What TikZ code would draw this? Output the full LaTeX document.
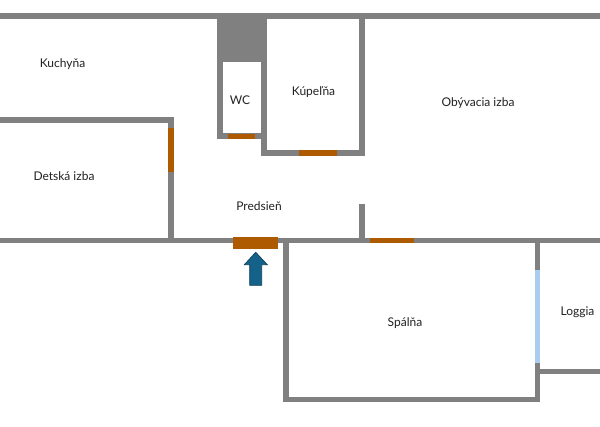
\documentclass[tikz,border=0pt]{standalone}
\usepackage{fontspec}
\setmainfont{Lato}
\definecolor{wallc}{HTML}{808080}
\definecolor{doorc}{HTML}{AD5A00}
\definecolor{winc}{HTML}{A9CDEE}
\definecolor{arrowc}{HTML}{14618A}
\definecolor{arrowe}{HTML}{0F3F5C}
\definecolor{textc}{HTML}{222222}
\tikzset{
  wall/.style={fill=wallc,draw=none},
  door/.style={fill=doorc,draw=none},
  glass/.style={fill=winc,draw=none},
  room/.style={text=textc,font=\fontsize{12}{14}\selectfont,inner sep=0pt,anchor=center},
  entry/.style={fill=arrowc,draw=arrowe,line width=0.7pt,line join=miter}
}
\begin{document}
\begin{tikzpicture}[x=1pt,y=-1pt]
\useasboundingbox (0,0) rectangle (600,426);
\fill[white] (0,0) rectangle (600,426);
% walls
\fill[wall] (0,13) rectangle (600,19);
\fill[wall] (217,19) rectangle (266,62);
\fill[wall] (217,19) rectangle (223,139);
\fill[wall] (217,133.3) rectangle (267,139);
\fill[wall] (260.5,19) rectangle (266.5,155.5);
\fill[wall] (261,150) rectangle (365,155.5);
\fill[wall] (359,19) rectangle (365,155.5);
\fill[wall] (0,117) rectangle (173.5,123);
\fill[wall] (168,117) rectangle (173.5,243);
\fill[wall] (0,237.5) rectangle (600,243.3);
\fill[wall] (359,204) rectangle (365,240);
\fill[wall] (283,240) rectangle (288.5,402);
\fill[wall] (283,396.7) rectangle (540.3,402);
\fill[wall] (534.7,240) rectangle (540.3,402);
\fill[wall] (537,369) rectangle (600,374.3);
% doors
\fill[door] (228,133.6) rectangle (255,139);
\fill[door] (299,150) rectangle (337,155.5);
\fill[door] (168,128) rectangle (173.5,172);
\fill[door] (233,237.3) rectangle (277.7,249);
\fill[door] (370,238) rectangle (414,243.3);
% window
\fill[glass] (534.7,270) rectangle (540.3,363);
% entrance arrow
\draw[entry] (255.7,252.3) -- (267.3,264.7) -- (261.7,264.7) -- (261.7,285.3) -- (249.7,285.3) -- (249.7,264.7) -- (244.3,264.7) -- cycle;
% labels
\node[room] (kuchyna) at (62.5,64.3) {Kuchyňa};
\node[room] (detska) at (64,175.8) {Detská izba};
\node[room] (wc) at (240,100) {WC};
\node[room] (kupelna) at (313.5,91.8) {Kúpeľňa};
\node[room] (obyvacia) at (478,103) {Obývacia izba};
\node[room] (predsien) at (259,205.8) {Predsieň};
\node[room] (spalna) at (405,323.2) {Spálňa};
\node[room] (loggia) at (577.5,312.3) {Loggia};
\end{tikzpicture}
\end{document}
